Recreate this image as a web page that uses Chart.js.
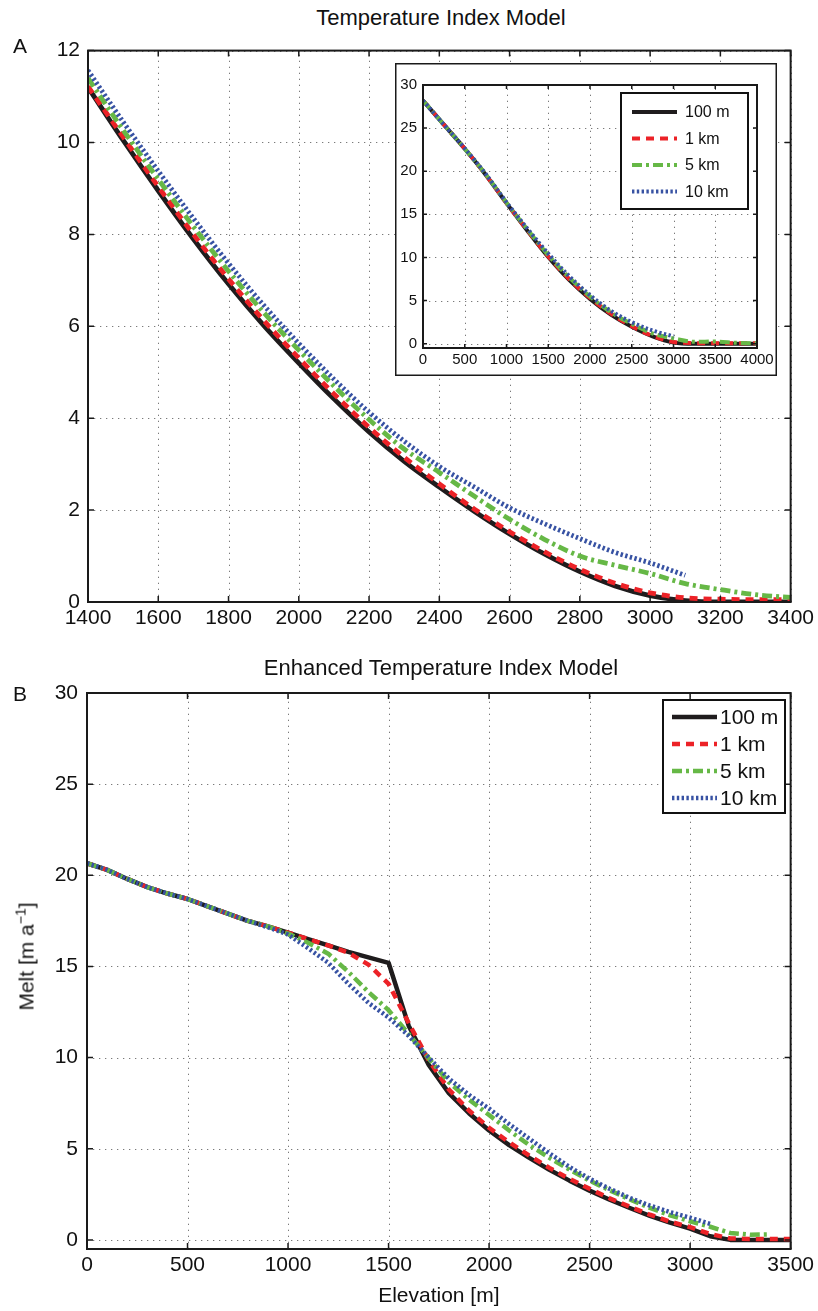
<!DOCTYPE html>
<html>
<head>
<meta charset="utf-8">
<title>Melt vs elevation</title>
<script src="https://cdn.jsdelivr.net/npm/chart.js@4.4.1/dist/chart.umd.min.js"></script>
<style>
  body { margin: 0; background: #fff; }
  #page { position: relative; width: 818px; height: 1311px; overflow: hidden; font-family: "Liberation Sans", Arial, sans-serif; color: #111; }
  .box { position: absolute; }
  .txt { position: absolute; font-size: 21px; line-height: 21px; white-space: nowrap; }
  .ttl { font-size: 22px; }
  sup { font-size: 14px; line-height: 0; }
</style>
</head>
<body>
<div id="page">
  <div class="box" style="left:0;top:30px"><canvas id="chartA" width="818" height="610"></canvas></div>
  <div class="box" style="left:395px;top:63px"><canvas id="chartInset" width="382" height="313"></canvas></div>
  <div class="box" style="left:0;top:650px"><canvas id="chartB" width="818" height="661"></canvas></div>

  <div class="txt ttl" style="left:241px;top:7px;width:400px;text-align:center">Temperature Index Model</div>
  <div class="txt" style="left:13px;top:35px">A</div>
  <div class="txt ttl" style="left:241px;top:657px;width:400px;text-align:center">Enhanced Temperature Index Model</div>
  <div class="txt" style="left:13px;top:683px">B</div>
  <div class="txt" style="left:-74px;top:946px;width:200px;text-align:center;transform:rotate(-90deg)">Melt [m a<sup>−1</sup>]</div>
</div>
<script>
// series labels (grid resolution)
const seriesNames = ['100 m', '1 km', '5 km', '10 km'];

// --- panel A: Temperature Index Model, 1400-3400 m ---
const elevA = [1400, 1500, 1600, 1700, 1800, 1900, 2000, 2100, 2200, 2300, 2400, 2500, 2600, 2700, 2800, 2900, 3000, 3100, 3200, 3300, 3400];
const meltA100m = [11.2, 10.05, 8.95, 7.9, 6.92, 6.02, 5.2, 4.42, 3.7, 3.06, 2.5, 1.97, 1.48, 1.04, 0.66, 0.35, 0.14, 0.03, 0, 0, 0];
const meltA1km = [11.22, 10.12, 9.04, 8.0, 7.03, 6.13, 5.31, 4.53, 3.8, 3.15, 2.57, 2.02, 1.53, 1.09, 0.71, 0.41, 0.2, 0.09, 0.06, 0.05, 0.05];
const meltA5km = [11.4, 10.27, 9.2, 8.17, 7.2, 6.3, 5.48, 4.7, 3.97, 3.33, 2.82, 2.3, 1.8, 1.36, 1.0, 0.8, 0.62, 0.4, 0.27, 0.16, 0.1];
const meltA10km = [11.57, 10.45, 9.38, 8.35, 7.37, 6.46, 5.63, 4.85, 4.13, 3.5, 2.95, 2.5, 2.05, 1.7, 1.38, 1.08, 0.85, 0.58, null, null, null];
const ticksAx = [1400, 1600, 1800, 2000, 2200, 2400, 2600, 2800, 3000, 3200, 3400];
const ticksAy = [0, 2, 4, 6, 8, 10, 12];

// --- inset: full elevation range 0-4000 m ---
const elevInset = [0, 250, 500, 750, 1000, 1250, 1500, 1750, 2000, 2250, 2500, 2750, 3000, 3250, 3500, 3750, 4000];
const meltIn100m = [28.2, 25.4, 22.6, 19.6, 16.3, 13.1, 10.05, 7.4, 5.2, 3.38, 1.97, 0.86, 0.14, 0, 0, 0, 0];
const meltIn1km = [28.2, 25.4, 22.6, 19.6, 16.3, 13.15, 10.12, 7.5, 5.31, 3.48, 2.02, 0.9, 0.2, 0.07, 0.05, 0.05, 0.05];
const meltIn5km = [28.2, 25.4, 22.6, 19.65, 16.35, 13.25, 10.27, 7.68, 5.48, 3.65, 2.3, 1.18, 0.62, 0.22, 0.25, 0.1, 0.05];
const meltIn10km = [28.2, 25.4, 22.65, 19.7, 16.4, 13.35, 10.45, 7.85, 5.63, 3.82, 2.5, 1.52, 0.85, null, null, null, null];
const ticksInX = [0, 500, 1000, 1500, 2000, 2500, 3000, 3500, 4000];
const ticksInY = [0, 5, 10, 15, 20, 25, 30];

// --- panel B: Enhanced Temperature Index Model, 0-3500 m ---
const elevB = [0, 100, 200, 300, 400, 500, 600, 700, 800, 900, 1000, 1100, 1200, 1300, 1400, 1500, 1600, 1700, 1800, 1900, 2000, 2100, 2200, 2300, 2400, 2500, 2600, 2700, 2800, 2900, 3000, 3100, 3200, 3300, 3400, 3500];
const meltB100m = [20.66, 20.3, 19.8, 19.35, 19.0, 18.7, 18.3, 17.9, 17.5, 17.2, 16.85, 16.5, 16.15, 15.8, 15.5, 15.2, 11.75, 9.6, 8.05, 6.95, 6.0, 5.2, 4.5, 3.85, 3.25, 2.7, 2.2, 1.75, 1.32, 0.95, 0.62, 0.2, 0, 0, 0, 0];
const meltB1km = [20.66, 20.3, 19.8, 19.35, 19.0, 18.7, 18.3, 17.9, 17.5, 17.2, 16.85, 16.5, 16.15, 15.75, 15.1, 14.05, 11.9, 9.85, 8.25, 7.1, 6.15, 5.35, 4.62, 3.95, 3.35, 2.8, 2.28, 1.82, 1.38, 1.0, 0.7, 0.32, 0.08, 0.05, 0.05, 0.05];
const meltB5km = [20.66, 20.3, 19.8, 19.35, 19.0, 18.7, 18.3, 17.9, 17.5, 17.2, 16.8, 16.3, 15.7, 14.7, 13.6, 12.6, 11.3, 9.95, 8.65, 7.7, 6.85, 6.0, 5.2, 4.5, 3.85, 3.25, 2.72, 2.22, 1.75, 1.35, 1.02, 0.72, 0.38, 0.28, 0.3, null];
const meltB10km = [20.66, 20.3, 19.8, 19.35, 19.0, 18.7, 18.3, 17.9, 17.5, 17.15, 16.75, 16.0, 15.2, 14.05, 13.0, 12.2, 11.2, 10.0, 8.85, 7.95, 7.2, 6.35, 5.55, 4.75, 4.0, 3.35, 2.8, 2.3, 1.88, 1.52, 1.22, 0.88, null, null, null, null];
const ticksBx = [0, 500, 1000, 1500, 2000, 2500, 3000, 3500];
const ticksBy = [0, 5, 10, 15, 20, 25, 30];

const lineStyles = [
    { color: '#1f1c1d', dash: [] },
    { color: '#ec2227', dash: [8, 6] },
    { color: '#66b846', dash: [10, 4, 3, 4] },
    { color: '#3752a3', dash: [2.4, 2.4] }
];

Chart.defaults.font.family = '"Liberation Sans", Arial, sans-serif';
Chart.defaults.color = '#111';

// dotted grid, box with inward ticks on all sides and a boxed legend, MATLAB style
const matlabAxes = {
    id: 'matlabAxes',
    beforeDraw(chart, args, opts) {
        if (!opts.outerBox) return;
        const { ctx, width, height } = chart;
        ctx.save();
        ctx.fillStyle = '#fff';
        ctx.fillRect(0, 0, width, height);
        ctx.strokeStyle = '#1a1a1a';
        ctx.lineWidth = 1.5;
        ctx.strokeRect(0.75, 0.75, width - 1.5, height - 1.5);
        ctx.restore();
    },
    beforeDatasetsDraw(chart) {
        const { ctx, chartArea: a, scales: { x, y } } = chart;
        ctx.save();
        ctx.strokeStyle = '#7a7a7a';
        ctx.lineWidth = 1;
        ctx.setLineDash([1.3, 4.7]);
        ctx.beginPath();
        x.ticks.forEach(t => {
            const px = Math.round(x.getPixelForValue(t.value)) + 0.5;
            ctx.moveTo(px, a.bottom); ctx.lineTo(px, a.top);
        });
        y.ticks.forEach(t => {
            const py = Math.round(y.getPixelForValue(t.value)) + 0.5;
            ctx.moveTo(a.left, py); ctx.lineTo(a.right, py);
        });
        ctx.stroke();
        ctx.restore();
    },
    afterDatasetsDraw(chart, args, opts) {
        const { ctx, chartArea: a, scales: { x, y } } = chart;
        const len = opts.tickLen;
        ctx.save();
        ctx.strokeStyle = '#1a1a1a';
        ctx.lineWidth = 1.5;
        ctx.beginPath();
        x.ticks.forEach(t => {
            const px = x.getPixelForValue(t.value);
            ctx.moveTo(px, a.bottom); ctx.lineTo(px, a.bottom - len);
            ctx.moveTo(px, a.top); ctx.lineTo(px, a.top + len);
        });
        y.ticks.forEach(t => {
            const py = y.getPixelForValue(t.value);
            ctx.moveTo(a.left, py); ctx.lineTo(a.left + len, py);
            ctx.moveTo(a.right, py); ctx.lineTo(a.right - len, py);
        });
        ctx.stroke();
        ctx.lineWidth = 2;
        ctx.strokeRect(a.left, a.top, a.right - a.left, a.bottom - a.top);

        const lg = opts.legend;
        if (lg) {
            ctx.fillStyle = '#fff';
            ctx.fillRect(lg.x, lg.y, lg.w, lg.h);
            ctx.strokeStyle = '#111';
            ctx.lineWidth = 2;
            ctx.strokeRect(lg.x, lg.y, lg.w, lg.h);
            ctx.font = lg.font;
            ctx.textBaseline = 'middle';
            chart.data.datasets.forEach((ds, i) => {
                const ry = lg.y + lg.first + i * lg.gap;
                ctx.setLineDash(ds.borderDash);
                ctx.lineCap = 'butt';
                ctx.lineWidth = ds.borderWidth;
                ctx.strokeStyle = ds.borderColor;
                ctx.beginPath();
                ctx.moveTo(lg.x + lg.s0, ry);
                ctx.lineTo(lg.x + lg.s1, ry);
                ctx.stroke();
                ctx.setLineDash([]);
                ctx.fillStyle = '#111';
                ctx.fillText(ds.label, lg.x + lg.tx, ry + 1);
            });
        }
        ctx.restore();
    }
};

function makeSets(xs, seriesList, width, smooth) {
    // dataset 0 first in the legend, but the last one is drawn on top
    return seriesList.map((vals, i) => ({
        label: seriesNames[i],
        data: xs.map((x, j) => ({ x: x, y: vals[j] })),
        borderColor: lineStyles[i].color,
        borderDash: lineStyles[i].dash,
        borderWidth: width,
        borderCapStyle: 'butt',
        borderJoinStyle: 'round',
        pointRadius: 0,
        fill: false,
        tension: 0,
        cubicInterpolationMode: smooth ? 'monotone' : 'default',
        order: seriesList.length - i
    }));
}

function makeScales(o) {
    return {
        x: {
            type: 'linear', min: o.xmin, max: o.xmax,
            afterBuildTicks: s => { s.ticks = o.xt.map(v => ({ value: v })); },
            afterFit: s => { s.height = o.xh; },
            grid: { display: false, drawTicks: false },
            border: { display: false },
            ticks: { padding: o.xpad, font: { size: o.fs }, color: '#111', maxRotation: 0, autoSkip: false, callback: v => String(v) },
            title: o.xtitle
                ? { display: true, text: o.xtitle, font: { size: 21 }, color: '#111', padding: { top: 0, bottom: 2 } }
                : { display: false }
        },
        y: {
            type: 'linear', min: o.ymin, max: o.ymax,
            afterBuildTicks: s => { s.ticks = o.yt.map(v => ({ value: v })); },
            afterFit: s => { s.width = o.yw; },
            grid: { display: false, drawTicks: false },
            border: { display: false },
            ticks: { padding: o.ypad, font: { size: o.fs }, color: '#111', autoSkip: false, callback: v => String(v) }
        }
    };
}

function makeChart(id, datasets, scales, padding, axesOpts) {
    return new Chart(document.getElementById(id), {
        type: 'line',
        data: { datasets: datasets },
        options: {
            responsive: false,
            animation: false,
            layout: { padding: padding },
            scales: scales,
            plugins: { legend: { display: false }, tooltip: { enabled: false }, matlabAxes: axesOpts }
        },
        plugins: [matlabAxes]
    });
}

makeChart('chartA',
    makeSets(elevA, [meltA100m, meltA1km, meltA5km, meltA10km], 4.8, true),
    makeScales({ xmin: 1400, xmax: 3400, ymin: 0, ymax: 12, xt: ticksAx, yt: ticksAy, xh: 38, yw: 88, xpad: 4, ypad: 8, fs: 21 }),
    { left: 0, right: 24, top: 15, bottom: 0 },
    { tickLen: 6, outerBox: false, legend: null });

// legend of the whole figure lives inside the inset
makeChart('chartInset',
    makeSets(elevInset, [meltIn100m, meltIn1km, meltIn5km, meltIn10km], 4, true),
    makeScales({ xmin: 0, xmax: 4000, ymin: -0.5, ymax: 30, xt: ticksInX, yt: ticksInY, xh: 28, yw: 28, xpad: 3, ypad: 6, fs: 15 }),
    { left: 0, right: 20, top: 22, bottom: 0 },
    { tickLen: 4, outerBox: true, legend: { x: 226, y: 30, w: 127, h: 116, first: 19, gap: 26.5, s0: 11, s1: 56, tx: 64, font: '16px "Liberation Sans", Arial, sans-serif' } });

makeChart('chartB',
    makeSets(elevB, [meltB100m, meltB1km, meltB5km, meltB10km], 4.5, false),
    makeScales({ xmin: 0, xmax: 3500, ymin: -0.5, ymax: 30, xt: ticksBx, yt: ticksBy, xh: 62, yw: 87, xpad: 4, ypad: 9, fs: 21, xtitle: 'Elevation [m]' }),
    { left: 0, right: 24, top: 43, bottom: 0 },
    { tickLen: 6, outerBox: false, legend: { x: 663, y: 50, w: 122, h: 113, first: 17, gap: 27, s0: 9, s1: 54, tx: 57, font: '21px "Liberation Sans", Arial, sans-serif' } });
</script>
</body>
</html>
